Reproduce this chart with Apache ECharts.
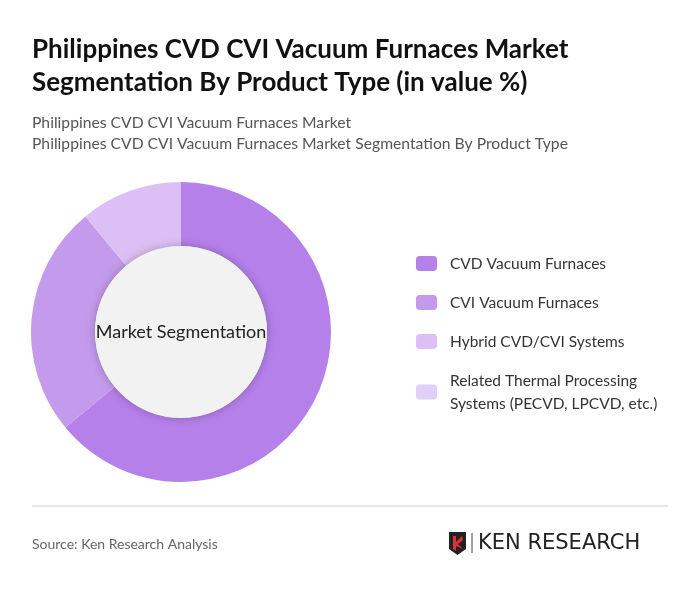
<!DOCTYPE html>
<html><head><meta charset="utf-8">
<script src="https://cdn.jsdelivr.net/npm/echarts@6/dist/echarts.min.js"></script>
<style>body{margin:0;background:#fff}#c{width:700px;height:591px}</style>
</head><body><div id="c"></div>
<script>
const categories = ["CVD Vacuum Furnaces","CVI Vacuum Furnaces","Hybrid CVD/CVI Systems","Related Thermal Processing\nSystems (PECVD, LPCVD, etc.)"];
const values = [64, 25, 11, 0];
const colors = ["#b580ea","#c49bec","#dcc0f5","#e2cff7"];
const chart = echarts.init(document.getElementById('c'));
const F = 'Lato, "Noto Sans", sans-serif';
chart.setOption({
  backgroundColor:'#fff',
  title:[
    {text:'Philippines CVD CVI Vacuum Furnaces Market\nSegmentation By Product Type (in value %)',left:27,top:28,
     textStyle:{fontFamily:F,fontSize:26,fontWeight:'bold',color:'#111',lineHeight:33}},
    {text:'Philippines CVD CVI Vacuum Furnaces Market\nPhilippines CVD CVI Vacuum Furnaces Market Segmentation By Product Type',left:27,top:107,
     textStyle:{fontFamily:F,fontSize:15.7,fontWeight:'normal',color:'#555',lineHeight:21}},
    {text:'Source: Ken Research Analysis',left:27,top:532,textStyle:{fontFamily:F,fontSize:14,fontWeight:'normal',color:'#666'}}
  ],
  legend:{orient:'vertical',left:411,top:247,itemWidth:21,itemHeight:15,itemGap:16,
    icon:'roundRect',data:categories,
    textStyle:{fontFamily:F,fontSize:15.5,color:'#333',lineHeight:23,padding:[0,0,0,8]}},
  series:[
    {type:'pie',radius:[0,86],center:[181,332],silent:true,z:3,label:{show:true,position:'center',formatter:'Market Segmentation',fontFamily:F,fontSize:18,color:'#222'},
     itemStyle:{color:'#f2f2f2',shadowBlur:10,shadowColor:'rgba(0,0,0,0.25)'},data:[{value:1,name:'inner'}],legendHoverLink:false},
    {type:'pie',radius:[86,150],center:[181,332],startAngle:90,clockwise:true,label:{show:false},labelLine:{show:false},
     data:categories.map((n,i)=>({name:n,value:values[i],itemStyle:{color:colors[i]}}))}
  ],
  graphic:[
    {type:'line',shape:{x1:32,y1:506,x2:668,y2:506},style:{stroke:'#ccc',lineWidth:1}},
    {type:'polygon',shape:{points:[[449,532],[466,532],[466,549],[457.5,555],[449,549]]},style:{fill:'#222'}},
    {type:'polygon',shape:{points:[[453,536],[456,536],[456,542],[462,536],[463,540],[458,544],[463,549],[456,546],[456,551],[453,549]]},style:{fill:'#d33'}},
    {type:'line',shape:{x1:472,y1:533,x2:472,y2:553},style:{stroke:'#444',lineWidth:1}},
    {type:'text',left:478,top:533,style:{text:'KEN RESEARCH',font:'21px "DejaVu Sans", sans-serif',fill:'#222'}}
  ]
});
</script></body></html>
